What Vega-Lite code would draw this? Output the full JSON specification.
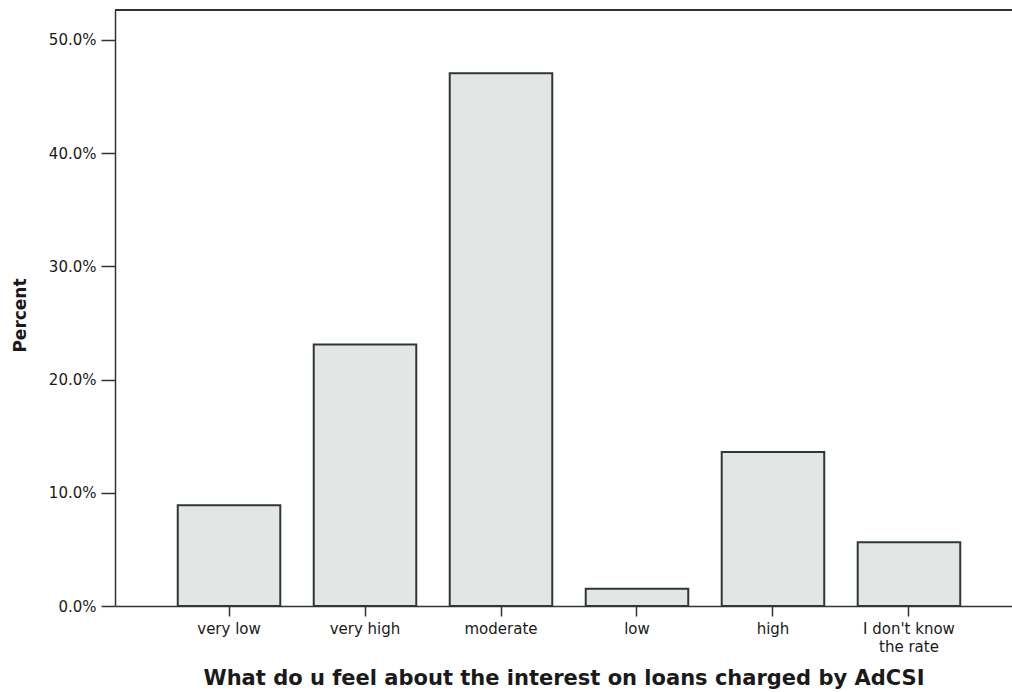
{
  "$schema": "https://vega.github.io/schema/vega-lite/v6.json",
  "width": 897,
  "height": 596,
  "autosize": {"type": "none"},
  "padding": {"left": 115, "top": 10, "right": 0, "bottom": 86},
  "background": "white",
  "config": {
    "view": {"stroke": null},
    "font": "DejaVu Sans"
  },
  "data": {
    "values": [
      {"category": "very low", "percent": 0.089},
      {"category": "very high", "percent": 0.231},
      {"category": "moderate", "percent": 0.4706},
      {"category": "low", "percent": 0.0153},
      {"category": "high", "percent": 0.136},
      {"category": "I don't know the rate", "percent": 0.0563}
    ]
  },
  "layer": [
    {
      "mark": {"type": "bar", "fill": "#e4e6e6", "stroke": "#2e3836", "strokeWidth": 2},
      "encoding": {
        "x": {
          "field": "category",
          "type": "nominal",
          "sort": null,
          "scale": {"paddingInner": 0.246, "paddingOuter": 0.421, "align": 0.548},
          "axis": {
            "title": "What do u feel about the interest on loans charged by AdCSI",
            "titleFont": "DejaVu Sans",
            "titleFontSize": 21,
            "titleFontWeight": "bold",
            "titleColor": "#1a1a1a",
            "titleY": 72,
            "titleBaseline": "middle",
            "labelAngle": 0,
            "labelFontSize": 15,
            "labelColor": "#1a1a1a",
            "labelLineHeight": 18,
            "labelExpr": "datum.value == \"I don't know the rate\" ? [\"I don't know\", \"the rate\"] : datum.label",
            "labelPadding": 5,
            "tickSize": 10,
            "tickColor": "#333333",
            "tickWidth": 1.5,
            "domainColor": "#333333",
            "domainWidth": 1.5
          }
        },
        "y": {
          "field": "percent",
          "type": "quantitative",
          "scale": {"domain": [0, 0.5265], "nice": false, "zero": true},
          "axis": {
            "title": "Percent",
            "titleFont": "DejaVu Sans",
            "titleFontSize": 17,
            "titleFontWeight": "bold",
            "titleColor": "#1a1a1a",
            "titleX": -95,
            "titleY": 305,
            "titleBaseline": "middle",
            "values": [0, 0.1, 0.2, 0.3, 0.4, 0.5],
            "format": ".1%",
            "grid": false,
            "labelFontSize": 15,
            "labelColor": "#1a1a1a",
            "labelPadding": 5,
            "tickSize": 14,
            "tickColor": "#333333",
            "tickWidth": 1.5,
            "domainColor": "#333333",
            "domainWidth": 1.5
          }
        }
      }
    },
    {
      "mark": {"type": "rule", "color": "#333333", "strokeWidth": 1.5},
      "encoding": {
        "y": {"datum": 0.5265}
      }
    }
  ]
}
